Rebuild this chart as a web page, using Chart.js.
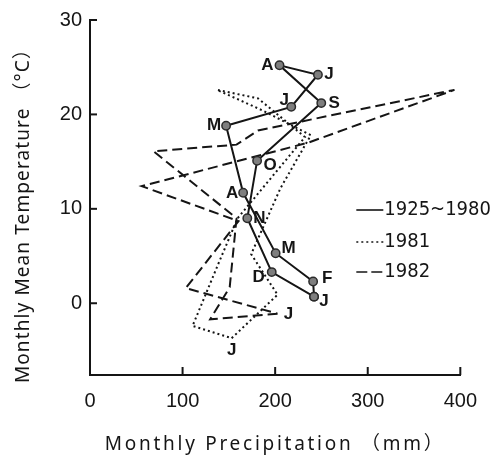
<!DOCTYPE html>
<html><head><meta charset="utf-8">
<script src="https://cdn.jsdelivr.net/npm/chart.js@4.4.1/dist/chart.umd.min.js"></script>
<style>html,body{margin:0;padding:0;background:#fff;}#wrap{width:491px;height:455px;}</style>
</head><body><div id="wrap"><canvas id="c" width="491" height="455"></canvas></div>
<script>
// ---- data ----
const months = ['J','F','M','A','M','J','J','A','S','O','N','D'];
const seriesNames = ['1925~1980','1981','1982'];
const precipMean = [242.0,241.0,200.5,165.4,147.0,217.4,246.2,204.7,249.8,180.5,169.9,196.3];
const tempMean   = [0.7,2.3,5.3,11.7,18.8,20.8,24.2,25.2,21.2,15.1,9.0,3.3];
const precip1981 = [153.0,202.6,174.1,205.8,238.5,186.8,137.2,181.5,232.2,159.4,138.3,110.8];
const temp1981   = [-3.7,0.9,5.2,12.2,17.8,20.4,22.6,21.7,17.6,9.0,4.1,-2.4];
const precip1982 = [202.6,129.8,150.9,158.3,68.6,158.3,181.5,393.7,235.4,55.9,160.4,103.4];
const temp1982   = [-1.1,-1.7,1.7,9.0,16.1,16.8,18.3,22.6,17.0,12.4,8.7,1.6];
const xTicks = [0,100,200,300,400];
const yTicks = [0,10,20,30];
const xTitle = 'Monthly Precipitation （mm）';
const yTitle = 'Monthly Mean Temperature （°C）';

// closed monthly loop (Dec joins back to Jan)
function loop(px, ty){ const d = px.map((x,i)=>({x:x,y:ty[i]})); d.push(d[0]); return d; }

const INK = '#151515';
const meanOffsets = [[10,5],[14,-3],[13,-5],[-11,1],[-12,0],[-7,-7],[11,0],[-12,0],[13,0],[13,5],[12,0],[-13,5]];

const extras = {
  id:'extras',
  afterDraw(chart){
    const ctx = chart.ctx, xs = chart.scales.x, ys = chart.scales.y, ca = chart.chartArea;
    ctx.save();
    ctx.strokeStyle = INK; ctx.fillStyle = INK; ctx.lineWidth = 2;
    // inside tick marks
    xTicks.forEach(v=>{ if(v===xs.min) return; const p = xs.getPixelForValue(v); ctx.beginPath(); ctx.moveTo(p, ca.bottom); ctx.lineTo(p, ca.bottom-8); ctx.stroke(); });
    yTicks.forEach(v=>{ const p = ys.getPixelForValue(v); ctx.beginPath(); ctx.moveTo(ca.left, p); ctx.lineTo(ca.left+7, p); ctx.stroke(); });
    // month labels
    ctx.font = 'bold 17px "Liberation Sans", Arial, sans-serif';
    ctx.textAlign = 'center'; ctx.textBaseline = 'middle';
    precipMean.forEach((x,i)=>{
      const px = xs.getPixelForValue(x), py = ys.getPixelForValue(tempMean[i]);
      ctx.fillText(months[i], px+meanOffsets[i][0], py+meanOffsets[i][1]);
    });
    ctx.fillText(months[0], xs.getPixelForValue(precip1981[0]), ys.getPixelForValue(temp1981[0])+12);
    ctx.fillText(months[0], xs.getPixelForValue(precip1982[0])+11, ys.getPixelForValue(temp1982[0])+1);
    // legend
    const lx0 = ca.right-104, lx1 = ca.right-77, tx = ca.right-76;
    const rows = [ca.top+190, ca.top+222, ca.top+252];
    const dashes = [[], [2,3], [11,4]];
    ctx.lineWidth = 1.6;
    rows.forEach((y,i)=>{
      ctx.setLineDash(dashes[i]); ctx.beginPath(); ctx.moveTo(lx0,y); ctx.lineTo(lx1,y); ctx.stroke();
    });
    ctx.setLineDash([]);
    ctx.font = '20px "Liberation Sans Narrow", "DejaVu Sans Condensed", sans-serif';
    ctx.textAlign = 'left';
    rows.forEach((y,i)=> ctx.fillText(seriesNames[i], tx, y));
    // axis titles with letter spacing
    function spaced(text, font, target){
      ctx.font = font; ctx.letterSpacing = '0px';
      const w = ctx.measureText(text).width;
      const ls = Math.max(0,(target - w)/(text.length-1));
      ctx.letterSpacing = ls.toFixed(2)+'px';
    }
    ctx.textAlign = 'center';
    spaced(xTitle, '19px "Noto Sans", "Noto Sans CJK JP", sans-serif', 338);
    ctx.fillText(xTitle, (ca.left+ca.right)/2, 445);
    ctx.translate(24, 211); ctx.rotate(-Math.PI/2);
    spaced(yTitle, '19px "Noto Sans", "Noto Sans CJK JP", sans-serif', 343);
    ctx.fillText(yTitle, 0, 0);
    ctx.restore();
  }
};

new Chart(document.getElementById('c'), {
  type:'scatter',
  data:{ datasets:[
    { label:seriesNames[0], data:loop(precipMean,tempMean), showLine:true, borderColor:INK, borderWidth:2,
      pointRadius:4.2, pointBackgroundColor:'#7e7e7e', pointBorderColor:'#2a2a2a', pointBorderWidth:1.5, tension:0, order:0 },
    { label:seriesNames[1], data:loop(precip1981,temp1981), showLine:true, borderColor:INK, borderWidth:2,
      borderDash:[2,3], pointRadius:0, tension:0, order:1 },
    { label:seriesNames[2], data:loop(precip1982,temp1982), showLine:true, borderColor:INK, borderWidth:2,
      borderDash:[10,5], pointRadius:0, tension:0, order:2 }
  ]},
  options:{
    responsive:false, animation:false, devicePixelRatio:1,
    layout:{ autoPadding:false, padding:{ left:0, right:22, top:15, bottom:0 } },
    plugins:{ legend:{display:false}, tooltip:{enabled:false} },
    scales:{
      x:{ type:'linear', min:0, max:400,
        afterBuildTicks:s=>{ s.ticks = xTicks.map(v=>({value:v})); },
        afterFit:s=>{ s.height = 80; },
        grid:{ display:false, drawTicks:false },
        border:{ display:true, color:INK, width:2 },
        ticks:{ color:INK, padding:14, font:{ family:'"Liberation Sans", Arial, sans-serif', size:20 } } },
      y:{ type:'linear', min:-7.6, max:30,
        afterBuildTicks:s=>{ s.ticks = yTicks.map(v=>({value:v})); },
        afterFit:s=>{ s.width = 90; },
        grid:{ display:false, drawTicks:false },
        border:{ display:true, color:INK, width:2 },
        ticks:{ color:INK, padding:8, font:{ family:'"Liberation Sans", Arial, sans-serif', size:20 } } }
    }
  },
  plugins:[extras]
});
</script></body></html>
